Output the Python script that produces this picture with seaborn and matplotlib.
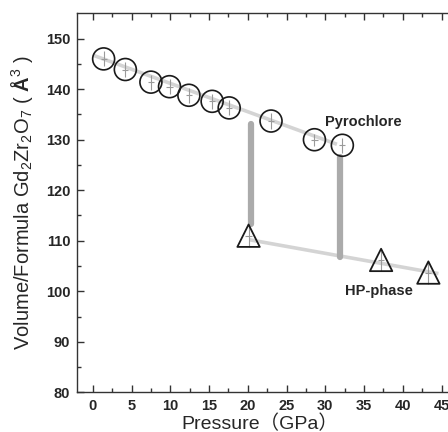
import matplotlib
matplotlib.use('Agg')
import matplotlib.pyplot as plt
import seaborn as sns
import pandas as pd

# pyrochlore phase (circles)
pyro_p = [1.4, 4.2, 7.5, 9.9, 12.4, 15.4, 17.6, 23.0, 28.6, 32.2]
pyro_v = [146.0, 143.9, 141.4, 140.5, 138.8, 137.6, 136.3, 133.7, 130.0, 128.9]
pyro_perr = [0.4, 0.4, 0.4, 0.4, 0.4, 0.4, 0.4, 0.4, 0.4, 0.4]
pyro_verr = [1.5, 1.5, 1.5, 1.5, 1.5, 1.5, 1.5, 1.5, 1.2, 1.5]

# high pressure phase (triangles)
hp_p = [20.1, 37.2, 43.3]
hp_v = [111.0, 106.2, 103.7]
hp_perr = [0.4, 0.4, 0.4]
hp_verr = [2.2, 2.2, 2.2]

# linear fits
pyro_fit_p = [0.1, 31.5]
pyro_fit_v = [146.7, 129.1]
hp_fit_p = [20.2, 44.6]
hp_fit_v = [110.2, 103.5]

# volume collapse bars
jump_p = [20.35, 31.9]
jump_top = [133.2, 126.5]
jump_bottom = [113.4, 106.8]

sns.set_style('ticks')
plt.rcParams['font.family'] = ['Liberation Sans', 'DejaVu Sans']
plt.rcParams['mathtext.fontset'] = 'custom'
plt.rcParams['mathtext.rm'] = 'Liberation Sans'
plt.rcParams['mathtext.it'] = 'Liberation Sans:italic'
plt.rcParams['mathtext.bf'] = 'Liberation Sans:bold'

fig = plt.figure(figsize=(4.48, 4.32), dpi=100)
ax = fig.add_axes([0.1725, 0.0919, 0.865, 0.877])

# fit lines
ax.plot(pyro_fit_p, pyro_fit_v, color='#d4d4d4', lw=2.6, zorder=1, solid_capstyle='butt')
ax.plot(hp_fit_p, hp_fit_v, color='#d4d4d4', lw=2.6, zorder=1, solid_capstyle='butt')

# transition bars
for p, top, bot in zip(jump_p, jump_top, jump_bottom):
    ax.plot([p, p], [bot, top], color='#ababab', lw=4.5, zorder=2, solid_capstyle='round')

# error bars
ax.errorbar(pyro_p, pyro_v, xerr=pyro_perr, yerr=pyro_verr, fmt='none',
            ecolor='#9a9a9a', elinewidth=0.8, capsize=0, zorder=3)
ax.errorbar(hp_p, hp_v, xerr=hp_perr, yerr=hp_verr, fmt='none',
            ecolor='#9a9a9a', elinewidth=0.8, capsize=0, zorder=3)

pyro = pd.DataFrame({'p': pyro_p, 'v': pyro_v})
hp = pd.DataFrame({'p': hp_p, 'v': hp_v})
sns.scatterplot(data=pyro, x='p', y='v', marker='o', s=250, facecolor='none',
                edgecolor='#1a1a1a', linewidth=1.2, ax=ax, zorder=4)
sns.scatterplot(data=hp, x='p', y='v', marker='^', s=260, facecolor='none',
                edgecolor='#1a1a1a', linewidth=1.3, ax=ax, zorder=4)

ax.text(29.9, 133.6, 'Pyrochlore', fontsize=10.5, fontweight='bold', ha='left', va='center')
ax.text(32.5, 100.0, 'HP-phase', fontsize=10.5, fontweight='bold', ha='left', va='center')

ax.set_xlim(-2, 48)
ax.set_ylim(80, 155)
ax.set_xticks(range(0, 50, 5))
ax.set_xticks([x + 2.5 for x in range(0, 45, 5)], minor=True)
ax.set_yticks(range(80, 151, 10))
ax.set_yticks(range(85, 155, 10), minor=True)
ax.tick_params(which='both', direction='in', top=True, right=True, width=1, color='#333333')
ax.tick_params(which='major', length=5, labelsize=10.5, pad=5)
ax.tick_params(which='minor', length=3)
for lab in ax.get_xticklabels() + ax.get_yticklabels():
    lab.set_fontweight('bold')
for sp in ax.spines.values():
    sp.set_color('#333333')
    sp.set_linewidth(1.0)

ax.set_xlabel('Pressure（GPa）', fontsize=14, family=['Liberation Sans', 'Noto Sans CJK SC'], labelpad=1)
ax.xaxis.set_label_coords(0.47, -0.058)
ax.set_ylabel(r'Volume/Formula Gd$_2$Zr$_2$O$_7$ ( $\mathbf{\AA}^3$ )', fontsize=14.5, labelpad=8)

fig.savefig('out.png', dpi=100)
